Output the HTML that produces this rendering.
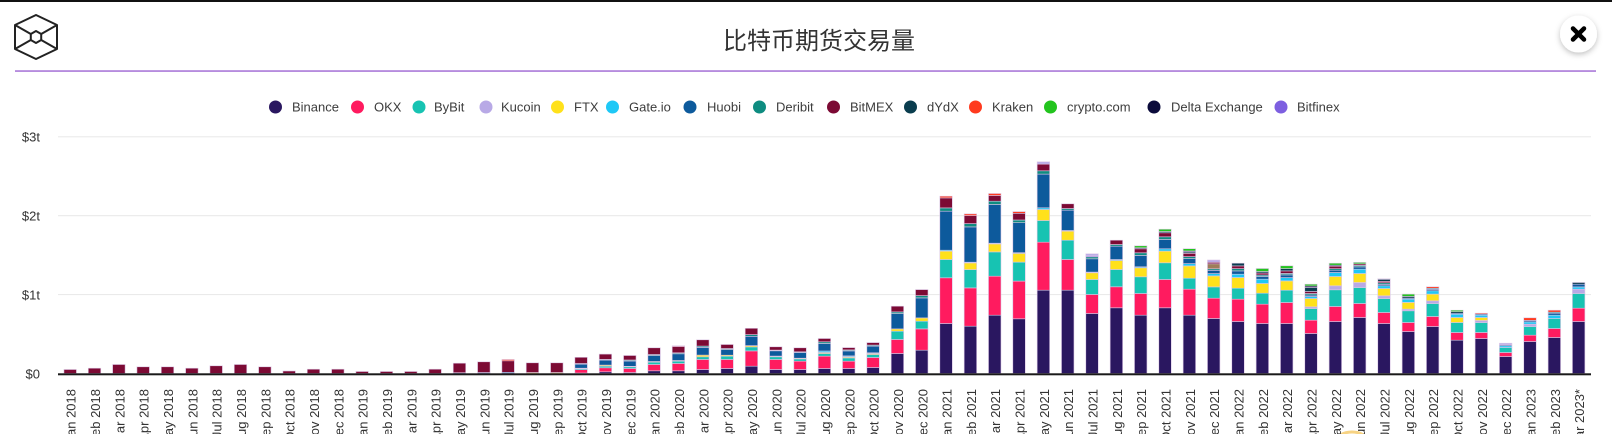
<!DOCTYPE html>
<html><head><meta charset="utf-8">
<style>
html,body{margin:0;padding:0;background:#fff;width:1612px;height:434px;overflow:hidden}
svg{display:block}
text{font-family:"Liberation Sans","Noto Sans CJK SC",sans-serif}
</style></head><body>
<svg id="c" width="1612" height="434" viewBox="0 0 1612 434" xmlns="http://www.w3.org/2000/svg">
<defs><filter id="sh" x="-50%" y="-50%" width="200%" height="200%"><feDropShadow dx="0" dy="2" stdDeviation="3" flood-color="#000" flood-opacity="0.25"/></filter></defs>
<rect x="0" y="0" width="1612" height="2" fill="#111"/>
<!-- logo -->
<g fill="none" stroke="#222" stroke-width="2" stroke-linejoin="round">
<polygon points="36,15 57,25 57,49 36,59 15,49 15,25"/>
<polygon points="36,31 41.2,34 41.2,40 36,43 30.8,40 30.8,34"/>
<line x1="15" y1="25" x2="30.8" y2="34"/><line x1="57" y1="25" x2="41.2" y2="34"/>
<line x1="15" y1="49" x2="30.8" y2="40"/><line x1="57" y1="49" x2="41.2" y2="40"/>
</g>
<text x="819" y="49" text-anchor="middle" font-size="24" fill="#333" style="font-family:'Noto Sans CJK SC','WenQuanYi Zen Hei',sans-serif">比特币期货交易量</text>
<rect x="15" y="70.3" width="1581" height="1.5" fill="#a46fd6"/>
<circle cx="1578.5" cy="34" r="18.5" fill="#fff" filter="url(#sh)"/>
<g stroke="#000" stroke-width="4.5" stroke-linecap="round"><line x1="1573" y1="28.5" x2="1584" y2="39.5"/><line x1="1584" y1="28.5" x2="1573" y2="39.5"/></g>
<!-- legend -->
<g font-size="13" fill="#3d3d3d">
<circle cx="275.5" cy="107" r="6.5" fill="#2a1760"/><text x="292" y="111.5">Binance</text>
<circle cx="357.5" cy="107" r="6.5" fill="#ff1b5f"/><text x="374" y="111.5">OKX</text>
<circle cx="419" cy="107" r="6.5" fill="#17c3b2"/><text x="434" y="111.5">ByBit</text>
<circle cx="486" cy="107" r="6.5" fill="#b8a9e6"/><text x="501" y="111.5">Kucoin</text>
<circle cx="557.5" cy="107" r="6.5" fill="#ffe11b"/><text x="574" y="111.5">FTX</text>
<circle cx="612.5" cy="107" r="6.5" fill="#1ec8f6"/><text x="629" y="111.5">Gate.io</text>
<circle cx="690" cy="107" r="6.5" fill="#0d5a9c"/><text x="707" y="111.5">Huobi</text>
<circle cx="759.5" cy="107" r="6.5" fill="#0e8c80"/><text x="776" y="111.5">Deribit</text>
<circle cx="833.5" cy="107" r="6.5" fill="#7c0a34"/><text x="850" y="111.5">BitMEX</text>
<circle cx="910.5" cy="107" r="6.5" fill="#0a3d4e"/><text x="927" y="111.5">dYdX</text>
<circle cx="975.5" cy="107" r="6.5" fill="#ff3a1e"/><text x="992" y="111.5">Kraken</text>
<circle cx="1050.5" cy="107" r="6.5" fill="#23c41e"/><text x="1067" y="111.5">crypto.com</text>
<circle cx="1154" cy="107" r="6.5" fill="#0b0b3b"/><text x="1171" y="111.5">Delta Exchange</text>
<circle cx="1281" cy="107" r="6.5" fill="#7d5fe0"/><text x="1297" y="111.5">Bitfinex</text>
</g>
<!-- grid -->
<g fill="#e8e8e8"><rect x="58" y="136.3" width="1533" height="1"/><rect x="58" y="215.2" width="1533" height="1"/><rect x="58" y="294.1" width="1533" height="1"/></g>
<g font-size="13" fill="#333" text-anchor="end">
<text x="40" y="141.5">$3t</text><text x="40" y="220.5">$2t</text><text x="40" y="299.5">$1t</text><text x="40" y="378.5">$0</text>
</g>
<g id="bars"></g>
<rect x="58" y="373.3" width="1533" height="2" fill="#1a1a1a"/>
<ellipse cx="1352" cy="442" rx="16" ry="10" fill="none" stroke="#f2b630" stroke-width="3" opacity="0.6"/>
<g font-size="13" fill="#333" text-anchor="end">
<text transform="translate(75.7,389) rotate(-90)">Jan 2018</text>
<text transform="translate(100,389) rotate(-90)">Feb 2018</text>
<text transform="translate(124.4,389) rotate(-90)">Mar 2018</text>
<text transform="translate(148.7,389) rotate(-90)">Apr 2018</text>
<text transform="translate(173,389) rotate(-90)">May 2018</text>
<text transform="translate(197.4,389) rotate(-90)">Jun 2018</text>
<text transform="translate(221.7,389) rotate(-90)">Jul 2018</text>
<text transform="translate(246,389) rotate(-90)">Aug 2018</text>
<text transform="translate(270.3,389) rotate(-90)">Sep 2018</text>
<text transform="translate(294.7,389) rotate(-90)">Oct 2018</text>
<text transform="translate(319,389) rotate(-90)">Nov 2018</text>
<text transform="translate(343.3,389) rotate(-90)">Dec 2018</text>
<text transform="translate(367.7,389) rotate(-90)">Jan 2019</text>
<text transform="translate(392,389) rotate(-90)">Feb 2019</text>
<text transform="translate(416.3,389) rotate(-90)">Mar 2019</text>
<text transform="translate(440.7,389) rotate(-90)">Apr 2019</text>
<text transform="translate(465,389) rotate(-90)">May 2019</text>
<text transform="translate(489.3,389) rotate(-90)">Jun 2019</text>
<text transform="translate(513.6,389) rotate(-90)">Jul 2019</text>
<text transform="translate(538,389) rotate(-90)">Aug 2019</text>
<text transform="translate(562.3,389) rotate(-90)">Sep 2019</text>
<text transform="translate(586.6,389) rotate(-90)">Oct 2019</text>
<text transform="translate(611,389) rotate(-90)">Nov 2019</text>
<text transform="translate(635.3,389) rotate(-90)">Dec 2019</text>
<text transform="translate(659.6,389) rotate(-90)">Jan 2020</text>
<text transform="translate(684,389) rotate(-90)">Feb 2020</text>
<text transform="translate(708.3,389) rotate(-90)">Mar 2020</text>
<text transform="translate(732.6,389) rotate(-90)">Apr 2020</text>
<text transform="translate(756.9,389) rotate(-90)">May 2020</text>
<text transform="translate(781.3,389) rotate(-90)">Jun 2020</text>
<text transform="translate(805.6,389) rotate(-90)">Jul 2020</text>
<text transform="translate(829.9,389) rotate(-90)">Aug 2020</text>
<text transform="translate(854.3,389) rotate(-90)">Sep 2020</text>
<text transform="translate(878.6,389) rotate(-90)">Oct 2020</text>
<text transform="translate(902.9,389) rotate(-90)">Nov 2020</text>
<text transform="translate(927.3,389) rotate(-90)">Dec 2020</text>
<text transform="translate(951.6,389) rotate(-90)">Jan 2021</text>
<text transform="translate(975.9,389) rotate(-90)">Feb 2021</text>
<text transform="translate(1000.2,389) rotate(-90)">Mar 2021</text>
<text transform="translate(1024.6,389) rotate(-90)">Apr 2021</text>
<text transform="translate(1048.9,389) rotate(-90)">May 2021</text>
<text transform="translate(1073.2,389) rotate(-90)">Jun 2021</text>
<text transform="translate(1097.6,389) rotate(-90)">Jul 2021</text>
<text transform="translate(1121.9,389) rotate(-90)">Aug 2021</text>
<text transform="translate(1146.2,389) rotate(-90)">Sep 2021</text>
<text transform="translate(1170.6,389) rotate(-90)">Oct 2021</text>
<text transform="translate(1194.9,389) rotate(-90)">Nov 2021</text>
<text transform="translate(1219.2,389) rotate(-90)">Dec 2021</text>
<text transform="translate(1243.5,389) rotate(-90)">Jan 2022</text>
<text transform="translate(1267.9,389) rotate(-90)">Feb 2022</text>
<text transform="translate(1292.2,389) rotate(-90)">Mar 2022</text>
<text transform="translate(1316.5,389) rotate(-90)">Apr 2022</text>
<text transform="translate(1340.9,389) rotate(-90)">May 2022</text>
<text transform="translate(1365.2,389) rotate(-90)">Jun 2022</text>
<text transform="translate(1389.5,389) rotate(-90)">Jul 2022</text>
<text transform="translate(1413.9,389) rotate(-90)">Aug 2022</text>
<text transform="translate(1438.2,389) rotate(-90)">Sep 2022</text>
<text transform="translate(1462.5,389) rotate(-90)">Oct 2022</text>
<text transform="translate(1486.8,389) rotate(-90)">Nov 2022</text>
<text transform="translate(1511.2,389) rotate(-90)">Dec 2022</text>
<text transform="translate(1535.5,389) rotate(-90)">Jan 2023</text>
<text transform="translate(1559.8,389) rotate(-90)">Feb 2023</text>
<text transform="translate(1584.2,389) rotate(-90)">Mar 2023*</text>
</g>
</svg>
<script>
(function(){
var col={B:'#2a1760',O:'#ff1b5f',Y:'#17c3b2',K:'#b8a9e6',F:'#ffe11b',G:'#1ec8f6',H:'#0d5a9c',D:'#0e8c80',M:'#7c0a34',X:'#0a3d4e',R:'#ff3a1e',C:'#23c41e',E:'#0b0b3b',N:'#7d5fe0',T:'#9e7d5a'};
var data=["M4","M5.3","M9","M6.7","M6.7","M5.3","M7.7","M9","M6.7","M2.5","M4.3","M4.3","M2","M2","M2","M4.3",
"H0.8 M9.5","H1 M10.7","H1.2 M11.5 R1.3","F1 M9.7","F1 M9.7",
"B0.5 O3.3 Y1 F0.5 H4 D0.7 M6.2",
"B1.7 O4 Y1.7 F1 H5 D0.7 M5.3",
"B1 O4 Y1.7 F0.5 H5.3 D1 M4.5",
"B2.7 O6.3 Y2.3 F0.7 H6 D1 M6.7",
"B2.7 O7.3 Y2.3 F0.7 H6.7 D1 M6.3 R0.7",
"B4 O10 Y2.7 F1.7 H7.7 D1.3 M6.3",
"B5 O9 Y3.3 F1 H5.7 D1 M4",
"B7.3 O15.3 Y4 F1.3 H9.3 D1.7 M6.3",
"B4 O10 Y2.7 F0.7 H5.3 D0.7 M3.3",
"B4 O8.3 Y2.3 F0.7 H5.7 D0.7 M4",
"B5 O12.3 Y2.7 F1 G1.5 H7.5 D1.7 M3.3",
"B5 O7.3 Y3.3 F1 G1 H5 D1 M2.3",
"B6 O10 Y3 F1 G0.7 H6.7 D1 M2.5",
"B20 O14 Y8.3 F2.3 H15.3 D1.7 M5.7",
"B23.3 O21.3 Y7.7 F3.3 H20 D2.3 M6",
"B50 O45.7 Y18.3 F8.3 G1 H39 D3.3 M10 R1.7",
"B47.3 O38.3 Y18.3 F6.7 G0.7 H35.3 D3.3 M8 R1.7",
"B58.3 O39 Y24.3 F8 G0.7 H38.7 D3.3 M5.7 R2",
"B54.7 O37.7 Y19 F8.7 G0.7 H30 D2.7 M6.7 R1.7",
"B83.3 O48 Y21.7 F11 G1.7 H33.7 D3.3 M6.7 K2.3",
"B83.3 O30.7 Y19.3 F9 G0.7 H20.3 D1.7 M4.7",
"B60 O19 Y15 F6.7 G0.7 H13.3 D2 N1 K2",
"B65.7 O21 Y17.3 F9 G1 H13.3 D1.7 M4.3",
"B58.3 O21.7 Y16.7 F9 G1 H11.3 D2.7 M4 E1 C2",
"B65.7 O28.3 Y16.7 F11.7 G2.3 H9.3 D2.7 M4 X1.3 C2.3",
"B58.3 O26 Y11 F12.3 G2.3 H5 D2 M3.3 X1.3 E1 C2.3",
"B55 O20.3 Y11.3 F11 G2.3 H3.3 D1.5 T5 M1.5 K2.3",
"B52 O22.3 Y11 F10.7 G3.3 H3.3 D2.3 M2.7 X2.7",
"B50 O19.3 Y11 F9.7 G4.3 H2.7 D1.5 M2 X1.5 C3",
"B50 O21 Y12.3 F9.3 G3.3 H2.7 D1.5 M2.5 X2.3 C2.8",
"B40 O13.3 Y11.7 K1.7 F8.3 G2 H1.5 D1.5 M2 X4 E1.5 C1.8",
"B52 O15 Y16.7 K4 F9.3 G4 H2.3 D1.5 M2.5 X1 C2",
"B56 O14 Y16 K5 F9 G4.3 H2.3 D1.5 M1.5 C1.5",
"B50 O11 Y14 K2.7 F7.3 G2.7 H1.5 D1.5 M1.5 X2 C0.5",
"B42 O9 Y11.7 K1.7 F6.7 G3.3 H1 X1.7 C2.3",
"B47 O10 Y13 K2.7 F6.7 G3.3 H1.5 D1 R1.5",
"B33.3 O7.7 Y10 F5 G3.3 H1 X1.5 C1.5",
"B35 O6 Y10 K2 F3 G2.3 H1 R1",
"B17 O4 Y5 G1.7 H1 K1.6",
"B32 O6.3 Y8.7 K2.3 G2.3 H1.5 R2.6",
"B36 O9 Y10 G3.3 H2 D1 R2",
"B52 O13.3 Y14.7 K4.3 G2.3 H2.7 X1.7"];
var g=document.getElementById('bars'),ns='http://www.w3.org/2000/svg';
var base=373.5,w=12.5;
for(var i=0;i<data.length;i++){
  var cx=70.2+i*24.33,x=cx-w/2,y=base;
  var segs=data[i].split(' ');
  for(var j=0;j<segs.length;j++){
    var k=segs[j].charAt(0),h=parseFloat(segs[j].slice(1));
    y-=h;
    var r=document.createElementNS(ns,'rect');
    r.setAttribute('x',x.toFixed(2));r.setAttribute('y',y.toFixed(2));
    r.setAttribute('width',w);r.setAttribute('height',h);
    r.setAttribute('fill',col[k]);
    r.setAttribute('stroke','#dcc8e6');r.setAttribute('stroke-width','0.6');
    g.appendChild(r);
  }
}
})();
</script>
</body></html>
